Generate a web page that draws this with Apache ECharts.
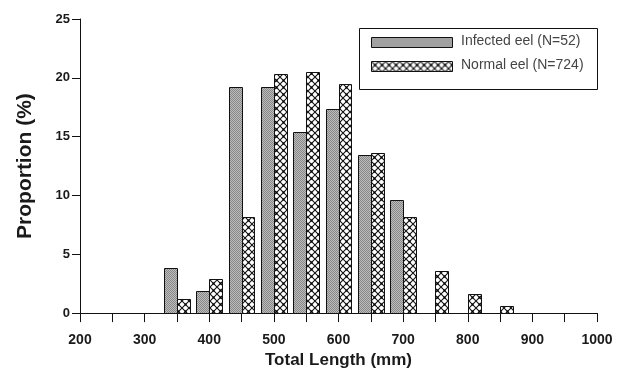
<!DOCTYPE html>
<html>
<head>
<meta charset="utf-8">
<script src="https://cdn.jsdelivr.net/npm/echarts@6/dist/echarts.min.js"></script>
<style>
  html, body { margin: 0; padding: 0; background: #fff; }
  #chart { width: 618px; height: 374px; }
</style>
</head>
<body>
<div id="chart"></div>
<script>
// Length-class centres (mm) and proportion of eels in each class (%)
const lengthBins = [350, 400, 450, 500, 550, 600, 650, 700, 750, 800, 850];
const infectedPct = [3.85, 1.92, 19.23, 19.23, 15.38, 17.31, 13.46, 9.62, 0, 0, 0];
const normalPct = [1.2, 2.9, 8.2, 20.3, 20.5, 19.5, 13.6, 8.2, 3.6, 1.6, 0.6];
const seriesNames = ['Infected eel (N=52)', 'Normal eel (N=724)'];
const yTicks = [0, 5, 10, 15, 20, 25];
const xRange = [200, 1000];

const BAR_SPAN = 20; // width of each bar in mm, either side of the class centre

// Fine grey stipple used for the infected bars
function stipplePattern() {
  const c = document.createElement('canvas');
  c.width = 2; c.height = 2;
  const g = c.getContext('2d');
  g.fillStyle = '#bcbcbc'; g.fillRect(0, 0, 2, 2);
  g.fillStyle = '#878787'; g.fillRect(0, 0, 1, 1); g.fillRect(1, 1, 1, 1);
  return { image: c, repeat: 'repeat' };
}

// Diamond cross-hatch used for the normal bars
function hatchPattern() {
  const s = 7;
  const c = document.createElement('canvas');
  c.width = s; c.height = s;
  const g = c.getContext('2d');
  g.fillStyle = '#fff'; g.fillRect(0, 0, s, s);
  g.strokeStyle = '#111'; g.lineWidth = 1.1;
  g.beginPath();
  g.moveTo(0, 0); g.lineTo(s, s);
  g.moveTo(s, 0); g.lineTo(0, s);
  g.stroke();
  g.fillStyle = '#000';
  g.fillRect(s / 2 - 1, s / 2 - 1, 2, 2);
  return { image: c, repeat: 'repeat' };
}

const fills = [stipplePattern(), hatchPattern()];

function barRenderer(side) {
  return function (params, api) {
    const centre = api.value(0);
    const v = api.value(1);
    if (!v) return null;
    const x0 = side === 0 ? centre - BAR_SPAN : centre;
    const x1 = side === 0 ? centre : centre + BAR_SPAN;
    const topLeft = api.coord([x0, v]);
    const bottomRight = api.coord([x1, 0]);
    return {
      type: 'rect',
      shape: {
        x: Math.round(topLeft[0]) + 0.5,
        y: Math.round(topLeft[1]) + 0.5,
        width: Math.round(bottomRight[0]) - Math.round(topLeft[0]),
        height: Math.round(bottomRight[1]) - Math.round(topLeft[1])
      },
      style: { fill: fills[side], stroke: '#111', lineWidth: 1 }
    };
  };
}

const tickFont = { fontFamily: '"Liberation Sans", Arial, sans-serif', fontWeight: 'bold', color: '#1a1a1a' };

const chart = echarts.init(document.getElementById('chart'), null, { renderer: 'canvas' });

const legendLeft = 359, legendTop = 28;
chart.setOption({
  animation: false,
  backgroundColor: '#fff',
  grid: { left: 80, right: 21, top: 19, bottom: 60, containLabel: false },
  xAxis: {
    type: 'value',
    min: xRange[0], max: xRange[1], interval: 50,
    name: 'Total Length (mm)',
    nameLocation: 'middle',
    nameGap: 34,
    nameTextStyle: { fontFamily: '"Liberation Sans", Arial, sans-serif', fontWeight: 'bold', fontSize: 17, color: '#1a1a1a' },
    axisLine: { lineStyle: { color: '#111', width: 1 } },
    axisTick: { inside: false, length: 9, lineStyle: { color: '#111' } },
    axisLabel: Object.assign({
      fontSize: 14, margin: 20,
      formatter: v => (v % 100 === 0 ? String(v) : '')
    }, tickFont),
    splitLine: { show: false }
  },
  yAxis: {
    type: 'value',
    min: yTicks[0], max: yTicks[yTicks.length - 1], interval: yTicks[1] - yTicks[0],
    name: 'Proportion (%)',
    nameLocation: 'middle',
    nameGap: 44,
    nameTextStyle: { fontFamily: '"Liberation Sans", Arial, sans-serif', fontWeight: 'bold', fontSize: 21, color: '#1a1a1a' },
    axisLine: { show: true, lineStyle: { color: '#111', width: 1 } },
    axisTick: { show: true, inside: false, length: 8, lineStyle: { color: '#111' } },
    axisLabel: Object.assign({ fontSize: 13, margin: 10 }, tickFont),
    splitLine: { show: false }
  },
  series: [
    {
      name: seriesNames[0], type: 'custom',
      data: lengthBins.map((b, i) => [b, infectedPct[i]]),
      renderItem: barRenderer(0)
    },
    {
      name: seriesNames[1], type: 'custom',
      data: lengthBins.map((b, i) => [b, normalPct[i]]),
      renderItem: barRenderer(1)
    }
  ],
  graphic: [
    {
      type: 'rect', left: legendLeft, top: legendTop,
      shape: { width: 238, height: 61 },
      style: { fill: '#fff', stroke: '#111', lineWidth: 1 }
    },
    {
      type: 'rect', left: 371, top: 37,
      shape: { width: 81, height: 10 },
      style: { fill: fills[0], stroke: '#111', lineWidth: 1 }
    },
    {
      type: 'rect', left: 371, top: 61,
      shape: { width: 81, height: 10 },
      style: { fill: fills[1], stroke: '#111', lineWidth: 1 }
    },
    {
      type: 'text', left: 461, top: 34,
      style: { text: seriesNames[0], fontFamily: '"Liberation Sans", Arial, sans-serif', fontSize: 14, fill: '#444' }
    },
    {
      type: 'text', left: 461, top: 58,
      style: { text: seriesNames[1], fontFamily: '"Liberation Sans", Arial, sans-serif', fontSize: 14, fill: '#444' }
    }
  ]
});
</script>
</body>
</html>
